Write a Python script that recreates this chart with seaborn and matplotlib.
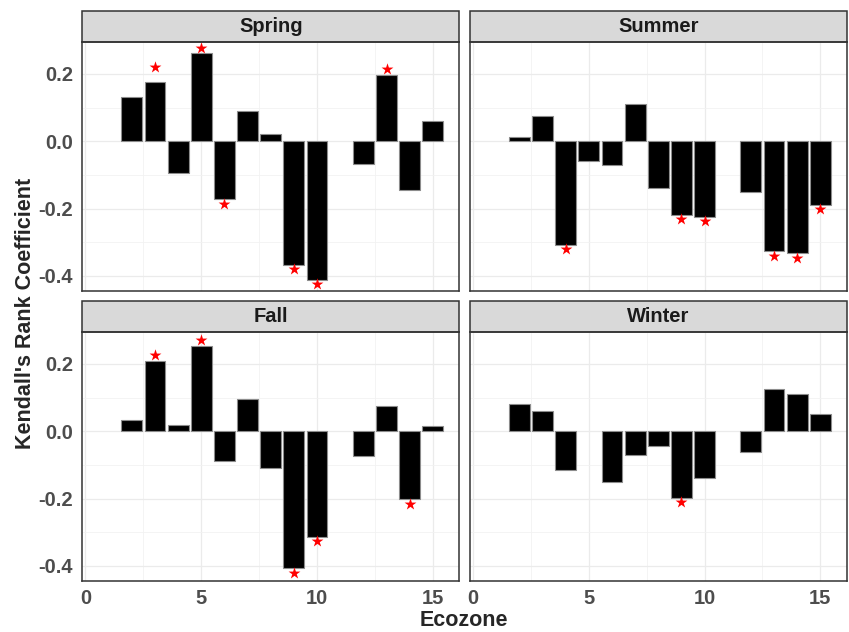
import numpy as np
import pandas as pd
import seaborn as sns
import matplotlib.pyplot as plt
from matplotlib.patches import Rectangle
from matplotlib.ticker import FormatStrFormatter

# Kendall's tau per ecozone and season
seasons = ["Spring", "Summer", "Fall", "Winter"]

spring_zone = [2, 3, 4, 5, 6, 7, 8, 9, 10, 12, 13, 14, 15]
spring_tau = [0.132, 0.176, -0.094, 0.263, -0.171, 0.091, 0.022, -0.368, -0.413, -0.069, 0.197, -0.146, 0.060]
spring_star = [np.nan, 0.221, np.nan, 0.277, -0.185, np.nan, np.nan, -0.380, -0.424, np.nan, 0.214, np.nan, np.nan]

summer_zone = [2, 3, 4, 5, 6, 7, 8, 9, 10, 12, 13, 14, 15]
summer_tau = [0.012, 0.074, -0.307, -0.058, -0.072, 0.110, -0.140, -0.219, -0.225, -0.151, -0.327, -0.333, -0.188]
summer_star = [np.nan, np.nan, -0.320, np.nan, np.nan, np.nan, np.nan, -0.232, -0.238, np.nan, -0.340, -0.346, -0.201]

fall_zone = [2, 3, 4, 5, 6, 7, 8, 9, 10, 12, 13, 14, 15]
fall_tau = [0.032, 0.210, 0.018, 0.254, -0.087, 0.095, -0.110, -0.405, -0.314, -0.073, 0.074, -0.200, 0.016]
fall_star = [np.nan, 0.226, np.nan, 0.272, np.nan, np.nan, np.nan, -0.420, -0.327, np.nan, np.nan, -0.217, np.nan]

winter_zone = [2, 3, 4, 6, 7, 8, 9, 10, 12, 13, 14, 15]
winter_tau = [0.082, 0.059, -0.116, -0.150, -0.070, -0.044, -0.198, -0.138, -0.063, 0.125, 0.110, 0.050]
winter_star = [np.nan, np.nan, np.nan, np.nan, np.nan, np.nan, -0.210, np.nan, np.nan, np.nan, np.nan, np.nan]

frames = []
for s, z, t, st in [("Spring", spring_zone, spring_tau, spring_star),
                    ("Summer", summer_zone, summer_tau, summer_star),
                    ("Fall", fall_zone, fall_tau, fall_star),
                    ("Winter", winter_zone, winter_tau, winter_star)]:
    frames.append(pd.DataFrame({"season": s, "ecozone": z, "tau": t, "star": st}))
df = pd.concat(frames, ignore_index=True)

sns.set_style("white")
plt.rcParams['font.family'] = ['Liberation Sans', 'DejaVu Sans']
plt.rcParams['axes.unicode_minus'] = False

W, H = 849, 632
g = sns.FacetGrid(df, col="season", col_order=seasons, col_wrap=2, sharex=True, sharey=True,
                  height=3, aspect=1.3, despine=False)
g.map_dataframe(sns.barplot, x="ecozone", y="tau", native_scale=True, color="black",
                edgecolor="#8c8c8c", linewidth=0.8, width=0.9, errorbar=None, saturation=1)
g.map_dataframe(sns.scatterplot, x="ecozone", y="star", marker="*", color="red", s=80, linewidth=0)

fig = g.figure
fig.set_size_inches(W / 100, H / 100)
fig.subplots_adjust(left=82 / W, right=847 / W, top=1 - 42 / H, bottom=1 - 581 / H,
                    wspace=10 / 377, hspace=41 / 249)

g.set_titles("")
g.set_axis_labels("", "")

strip_h = 31 / 249
for i, (ax, name) in enumerate(zip(g.axes.flat, seasons)):
    ax.set_xlim(-0.15, 16.15)
    ax.set_ylim(-0.445, 0.295)
    ax.set_xticks([0, 5, 10, 15])
    ax.set_xticks([2.5, 7.5, 12.5], minor=True)
    ax.set_yticks([-0.4, -0.2, 0.0, 0.2])
    ax.set_yticks([-0.3, -0.1, 0.1], minor=True)
    ax.yaxis.set_major_formatter(FormatStrFormatter('%.1f'))
    ax.xaxis.set_major_formatter(FormatStrFormatter('%d'))
    ax.grid(True, which="major", color="#EBEBEB", linewidth=0.9)
    ax.grid(True, which="minor", color="#F2F2F2", linewidth=0.6)
    ax.set_axisbelow(True)
    for sp in ax.spines.values():
        sp.set_color("#333333")
        sp.set_linewidth(1.1)
    ax.tick_params(which="minor", length=0)
    bottom_row = i >= 2
    left_col = i % 2 == 0
    ax.tick_params(axis="x", which="major", length=3.5 if bottom_row else 0, color="#333333",
                   labelsize=14.5, labelcolor="#4D4D4D", pad=2, labelbottom=bottom_row)
    ax.tick_params(axis="y", which="major", length=3.5 if left_col else 0, color="#333333",
                   labelsize=14.5, labelcolor="#4D4D4D", pad=3, labelleft=left_col)
    for lab in ax.get_xticklabels() + ax.get_yticklabels():
        lab.set_fontweight("bold")
    ax.set_xlabel("")
    ax.set_ylabel("")
    ax.add_patch(Rectangle((0, 1), 1, strip_h, transform=ax.transAxes, clip_on=False,
                           facecolor="#D9D9D9", edgecolor="#333333", linewidth=1.1))
    ax.text(0.5, 1 + strip_h / 2, name, transform=ax.transAxes, ha="center", va="center",
            fontsize=14.5, fontweight="bold", color="#1A1A1A")

fig.text(464 / W, 1 - 620 / H, "Ecozone", ha="center", va="center", fontsize=15.5, fontweight="bold")
fig.text(26 / W, 1 - 313 / H, "Kendall's Rank Coefficient", ha="center", va="center",
         rotation=90, fontsize=15.5, fontweight="bold")

plt.savefig("out.png", dpi=100)
